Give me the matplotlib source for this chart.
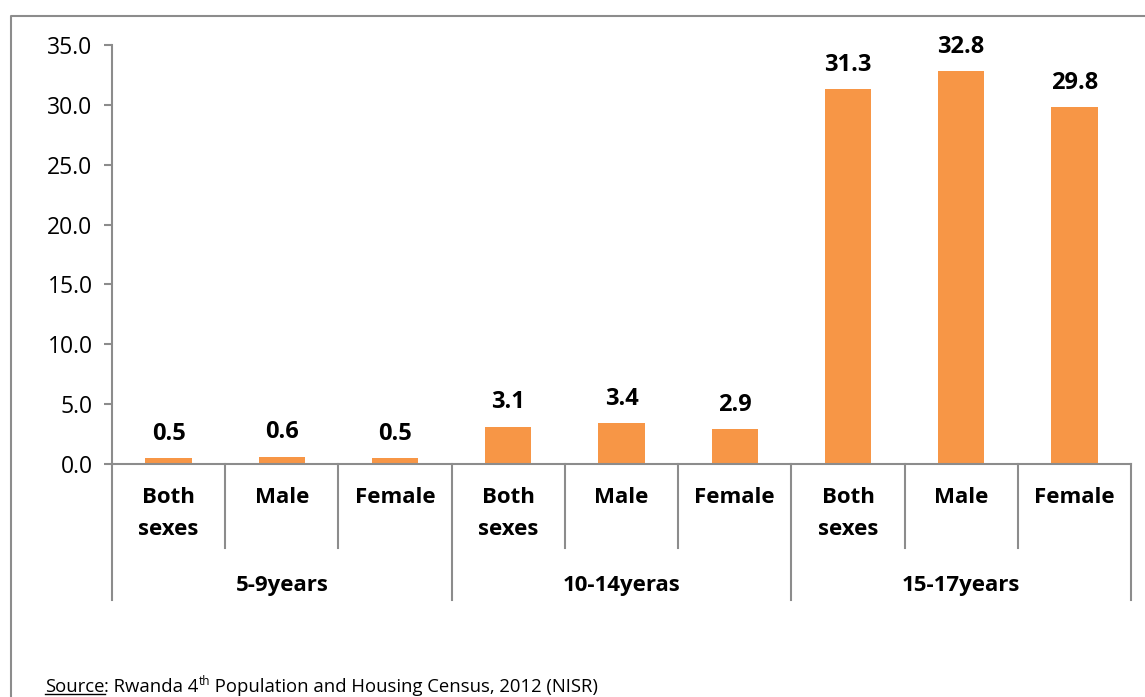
import matplotlib.pyplot as plt
from matplotlib.lines import Line2D
import matplotlib.transforms as mtransforms

groups = ['5-9years', '10-14yeras', '15-17years']
sexes = ['Both\nsexes', 'Male', 'Female']
values = [0.5, 0.6, 0.5, 3.1, 3.4, 2.9, 31.3, 32.8, 29.8]
yticks = [0, 5, 10, 15, 20, 25, 30, 35]

plt.rcParams['font.family'] = ['Open Sans', 'DejaVu Sans']
BAR = '#F79646'
GREY = '#8C8C8C'

fig = plt.figure(figsize=(11.45, 6.97), dpi=100)
ax = fig.add_axes([112/1145, 1-464/697, (1131-112)/1145, (464-45)/697])

x = list(range(len(values)))
ax.bar(x, values, width=0.41, color=BAR, zorder=2)
for xi, v in zip(x, values):
    ax.annotate(f'{v:.1f}', (xi, v), xytext=(0, 9), textcoords='offset points',
                ha='center', va='bottom', fontsize=17, fontweight='bold')

ax.set_xlim(-0.5, len(values) - 0.5)
ax.set_ylim(0, 35)
ax.set_yticks(yticks)
ax.set_yticklabels([f'{t:.1f}' for t in yticks], fontsize=16.5)
ax.set_xticks([])
for s in ['top', 'right']:
    ax.spines[s].set_visible(False)
for s in ['left', 'bottom']:
    ax.spines[s].set_color(GREY)
    ax.spines[s].set_linewidth(1.5)
ax.tick_params(axis='y', length=6, width=1.5, color=GREY, pad=8)

# multi-level category axis
trans = mtransforms.blended_transform_factory(ax.transData, ax.transAxes)
n = len(values)
for k in range(n + 1):
    bottom = -0.325 if k % 3 == 0 else -0.2
    ax.add_line(Line2D([k - 0.5, k - 0.5], [0, bottom], transform=trans,
                       color=GREY, lw=1.5, clip_on=False))
for i in range(n):
    ax.text(i, -0.055, sexes[i % 3], transform=trans, ha='center', va='top',
            fontsize=16, fontweight='bold', linespacing=1.7)
for g, name in enumerate(groups):
    ax.text(3 * g + 1, -0.29, name, transform=trans, ha='center', va='center',
            fontsize=16, fontweight='bold')

# outer frame
fig.add_artist(Line2D([11/1145, 11/1145, 1], [0, 1-16/697, 1-16/697],
                      transform=fig.transFigure, color=GREY, lw=1.5))

# source note
t1 = fig.text(45/1145, 1/697, 'Source', fontsize=13.3, va='bottom')
t2 = ax.annotate(': Rwanda 4', xy=(1, 0), xycoords=t1, va='bottom', fontsize=13.3)
t3 = ax.annotate('th', xy=(1, 0), xycoords=t2, xytext=(0, 6),
                 textcoords='offset points', va='bottom', fontsize=8.5)
ax.annotate(' Population and Housing Census, 2012 (NISR)', xy=(1, 0), xycoords=t3,
            xytext=(0, -6), textcoords='offset points', va='bottom', fontsize=13.3)
fig.canvas.draw()
bb = t1.get_window_extent()
fig.add_artist(Line2D([bb.x0, bb.x1], [bb.y0 + 2, bb.y0 + 2], transform=None,
                      color='black', lw=1))

fig.savefig('out.png', dpi=100)
plt.close(fig)
